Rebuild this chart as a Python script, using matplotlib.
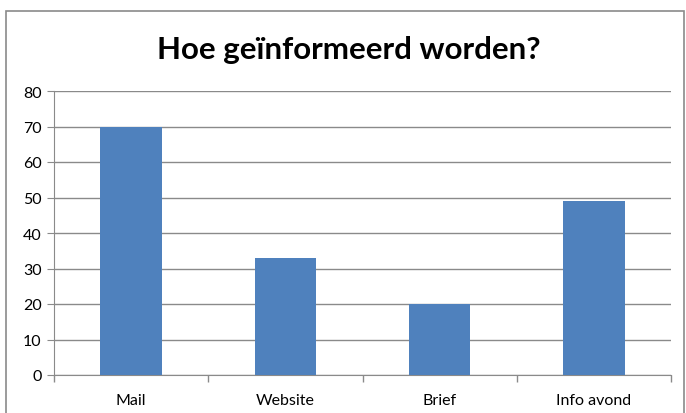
import matplotlib
matplotlib.use("Agg")
import matplotlib.pyplot as plt
from matplotlib.patches import Rectangle
from matplotlib.ticker import FixedLocator, MultipleLocator

categories = ["Mail", "Website", "Brief", "Info avond"]
values = [70, 33, 20, 49]
title = "Hoe geïnformeerd worden?"

plt.rcParams['font.family'] = ['Lato', 'DejaVu Sans']

fig = plt.figure(figsize=(6.86, 4.14), dpi=100)
fig.patches.append(Rectangle((6 / 686, -0.05), 678 / 686, 1.05 - 12 / 414,
                             transform=fig.transFigure, fill=False,
                             edgecolor="#8a8a8a", linewidth=1.2))

ax = fig.add_axes([54 / 686, 1 - 376 / 414, 617 / 686, 284 / 414])
x = range(len(categories))
ax.bar(x, values, width=0.4, color="#4f81bd", zorder=3)

ax.set_xlim(-0.5, len(categories) - 0.5)
ax.set_ylim(0, 80)
ax.yaxis.set_major_locator(MultipleLocator(10))
ax.set_xticks(list(x))
ax.set_xticklabels(categories, fontsize=11.5)
ax.xaxis.set_minor_locator(FixedLocator([i - 0.5 for i in range(len(categories) + 1)]))
ax.tick_params(axis="x", which="major", length=0, pad=13)
ax.tick_params(axis="x", which="minor", length=5, color="#8a8a8a", width=1)
ax.tick_params(axis="y", length=5, color="#8a8a8a", labelsize=11.5, pad=4)

ax.grid(axis="y", color="#8a8a8a", linewidth=1, zorder=0)
for s in ["top", "right"]:
    ax.spines[s].set_visible(False)
for s in ["left", "bottom"]:
    ax.spines[s].set_color("#8a8a8a")

fig.text(349 / 686, 1 - 58.5 / 414, title, fontsize=22.5, fontweight="bold",
         ha="center", va="baseline")

fig.savefig("out.png", dpi=100)
